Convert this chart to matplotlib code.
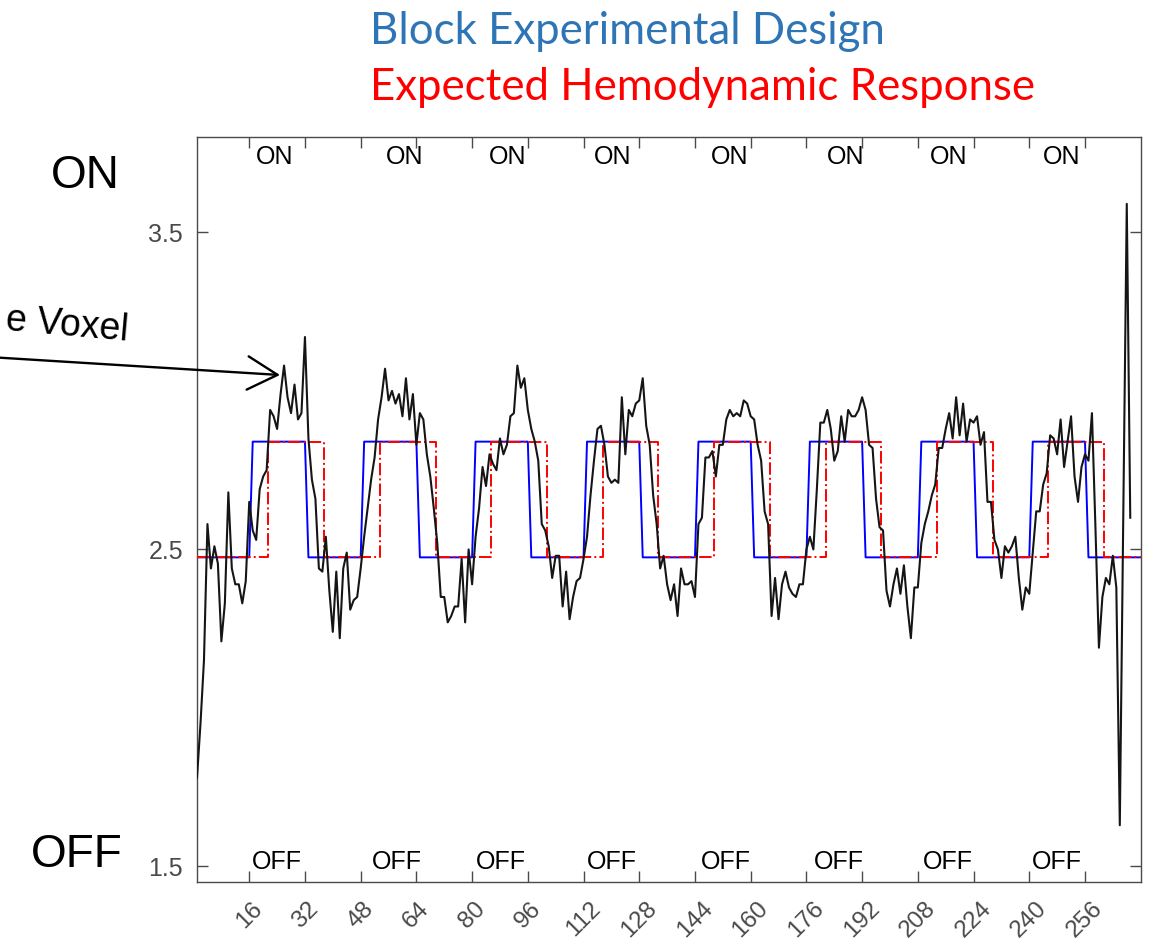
import matplotlib
matplotlib.use("Agg")
import matplotlib.pyplot as plt
import numpy as np

# ---------------- data ----------------
n_scans = 272
block_onsets = [16, 48, 80, 112, 144, 176, 208, 240]
block_len = 16
design_low, design_high = 2.475, 2.84
hrf_lag = 5

voxel_signal = [
    1.78, 1.95, 2.15, 2.58, 2.44, 2.51, 2.455, 2.21, 2.33, 2.68,
    2.44, 2.39, 2.39, 2.33, 2.40, 2.65, 2.56, 2.53, 2.69, 2.73,
    2.75, 2.94, 2.92, 2.88, 2.99, 3.08, 2.98, 2.93, 3.02, 2.91,
    2.93, 3.17, 2.85, 2.72, 2.66, 2.44, 2.43, 2.54, 2.37, 2.24,
    2.43, 2.22, 2.44, 2.49, 2.31, 2.34, 2.35, 2.44, 2.54, 2.63,
    2.72, 2.79, 2.91, 2.98, 3.07, 2.97, 3.00, 2.96, 2.99, 2.92,
    3.04, 2.91, 2.99, 2.83, 2.93, 2.91, 2.80, 2.73, 2.63, 2.52,
    2.35, 2.35, 2.27, 2.29, 2.32, 2.32, 2.47, 2.27, 2.50, 2.39,
    2.54, 2.63, 2.76, 2.70, 2.80, 2.77, 2.75, 2.85, 2.80, 2.83,
    2.92, 2.93, 3.08, 3.01, 3.04, 2.94, 2.88, 2.84, 2.78, 2.58,
    2.56, 2.51, 2.41, 2.48, 2.48, 2.32, 2.43, 2.28, 2.35, 2.40,
    2.41, 2.47, 2.54, 2.67, 2.78, 2.88, 2.89, 2.83, 2.73, 2.71,
    2.72, 2.71, 2.98, 2.80, 2.94, 2.92, 2.96, 2.97, 3.04, 2.89,
    2.83, 2.67, 2.58, 2.44, 2.48, 2.39, 2.34, 2.39, 2.29, 2.44,
    2.39, 2.39, 2.40, 2.35, 2.58, 2.60, 2.79, 2.79, 2.81, 2.73,
    2.83, 2.83, 2.91, 2.94, 2.92, 2.93, 2.92, 2.97, 2.96, 2.92,
    2.91, 2.83, 2.78, 2.62, 2.58, 2.29, 2.41, 2.28, 2.39, 2.43,
    2.38, 2.36, 2.35, 2.39, 2.39, 2.50, 2.54, 2.50, 2.69, 2.90,
    2.90, 2.94, 2.88, 2.78, 2.81, 2.92, 2.84, 2.94, 2.92, 2.92,
    2.94, 2.98, 2.94, 2.83, 2.82, 2.66, 2.57, 2.56, 2.37, 2.32,
    2.39, 2.44, 2.36, 2.45, 2.32, 2.22, 2.38, 2.38, 2.52, 2.58,
    2.62, 2.67, 2.705, 2.82, 2.82, 2.88, 2.93, 2.85, 2.98, 2.86,
    2.96, 2.84, 2.91, 2.90, 2.92, 2.83, 2.87, 2.65, 2.65, 2.53,
    2.50, 2.41, 2.51, 2.49, 2.51, 2.54, 2.41, 2.31, 2.38, 2.36,
    2.49, 2.62, 2.62, 2.705, 2.74, 2.86, 2.85, 2.80, 2.91, 2.76,
    2.84, 2.92, 2.73, 2.65, 2.76, 2.80, 2.78, 2.93, 2.57, 2.19,
    2.35, 2.41, 2.39, 2.48, 2.38, 1.63, 2.60, 3.59, 2.60,
]

xtick_values = list(range(16, 257, 16))
ytick_values = [1.5, 2.5, 3.5]
ytick_labels = ["1.5", "2.5", "3.5"]
on_label_x = [23.2, 60.5, 90.1, 120.3, 153.9, 187.3, 216.8, 249.4]
off_label_x = [24.0, 58.5, 88.4, 120.1, 152.9, 185.3, 216.6, 247.9]

# ---------------- derived series ----------------
t = np.arange(1, n_scans + 1)
design = np.full(n_scans, design_low)
expected = np.full(n_scans, design_low)
for on in block_onsets:
    design[(t > on) & (t <= on + block_len)] = design_high
    expected[(t > on + hrf_lag) & (t <= on + block_len + hrf_lag)] = design_high
t_sig = np.arange(1, len(voxel_signal) + 1)

# ---------------- figure ----------------
W, H = 1150, 944
fig = plt.figure(figsize=(W / 100, H / 100), dpi=100)
ax_l, ax_r, ax_t, ax_b = 197, 1140.7, 137.3, 882.3
ax = fig.add_axes([ax_l / W, 1 - ax_b / H, (ax_r - ax_l) / W, (ax_b - ax_t) / H])

ax.plot(t, design, color="#0000ff", lw=1.4, zorder=2)
ax.plot(t, expected, color="#ff0000", lw=1.4, ls="-.", drawstyle="steps-mid", zorder=3)
ax.plot(t_sig, voxel_signal, color="#151515", lw=1.5, zorder=4)

ax.set_xlim(1, 272)
ax.set_ylim(1.45, 3.8)

axis_gray = "#4a4a4a"
font = "Liberation Sans"
ax.set_xticks(xtick_values)
ax.set_xticklabels([str(v) for v in xtick_values], rotation=45, ha="center",
                   fontsize=17.5, family=font, color=axis_gray)
ax.set_yticks(ytick_values)
ax.set_yticklabels(ytick_labels, fontsize=18, family=font, color=axis_gray)
ax.tick_params(axis="both", direction="in", length=8, width=1.0, color=axis_gray,
               top=True, right=True)
ax.tick_params(axis="x", pad=11)
ax.tick_params(axis="y", pad=10)
for s in ax.spines.values():
    s.set_color(axis_gray)
    s.set_linewidth(1.0)

for x in on_label_x:
    ax.text(x, 3.738, "ON", ha="center", va="center", fontsize=18, family=font, color="black")
for x in off_label_x:
    ax.text(x, 1.513, "OFF", ha="center", va="center", fontsize=18, family=font, color="black")

# ---------------- outer annotations ----------------
def fy(y):
    return H - y

fig.text(370 / W, fy(32) / H, "Block Experimental Design", ha="left", va="center",
         fontsize=31.5, family="Lato", color="#2E75B6")
fig.text(370 / W, fy(88) / H, "Expected Hemodynamic Response", ha="left", va="center",
         fontsize=31.5, family="Lato", color="#FF0000")

fig.text(85 / W, fy(176) / H, "ON", ha="center", va="center", fontsize=33, family=font, color="black")
fig.text(77 / W, fy(855) / H, "OFF", ha="center", va="center", fontsize=33, family=font, color="black")

fig.text(127 / W, fy(341) / H, "e Voxel", ha="right", va="baseline", fontsize=27, family=font,
         color="black", rotation=-5, rotation_mode="anchor")

ax.annotate("", xy=(280, fy(375)), xycoords="figure pixels",
            xytext=(0, fy(357.7)), textcoords="figure pixels",
            arrowprops=dict(arrowstyle="->,head_length=0.9,head_width=0.5",
                            color="black", lw=1.7, shrinkA=0, shrinkB=0,
                            mutation_scale=24),
            annotation_clip=False)

fig.savefig("out.png", dpi=100)
